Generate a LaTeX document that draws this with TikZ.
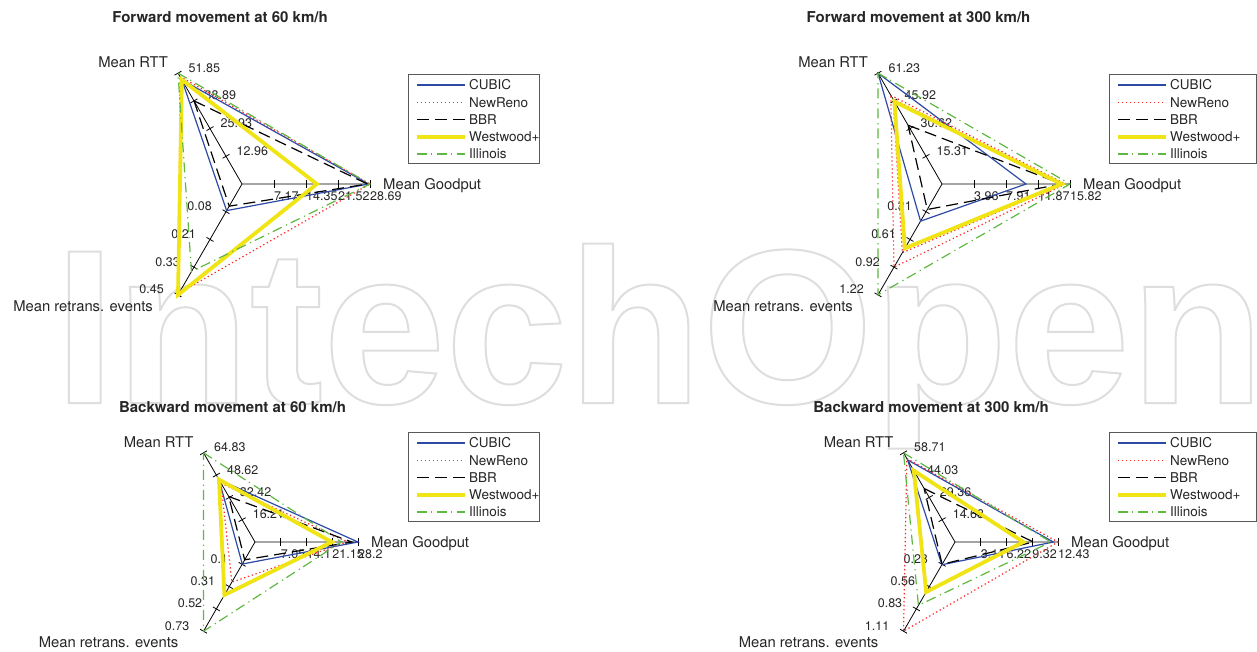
\documentclass[tikz,border=0pt]{standalone}
\usepackage{fontspec}
\setmainfont{TeX Gyre Heros}
\newfontfamily\wmfont{Liberation Sans}
\usetikzlibrary{calc}
\definecolor{cubic}{RGB}{45,75,165}
\definecolor{newreno}{RGB}{255,40,40}
\definecolor{westwood}{RGB}{240,228,20}
\definecolor{illinois}{RGB}{95,185,65}
\definecolor{txt}{RGB}{38,38,38}
\definecolor{wmcol}{RGB}{222,222,222}
\tikzset{
  cubicline/.style={draw=cubic, line width=1.2pt},
  renoline/.style={draw=newreno, line width=1.2pt, dash pattern=on 1.3pt off 2.7pt},
  bbrline/.style={draw=black, line width=1.2pt, dash pattern=on 12pt off 6pt},
  wwline/.style={draw=westwood, line width=3.8pt, line join=miter},
  illline/.style={draw=illinois, line width=1.2pt, dash pattern=on 10pt off 4pt on 1.2pt off 4.8pt},
  axisline/.style={draw=black, line width=0.8pt},
  ticklab/.style={font=\fontsize{12.5}{14}\selectfont, text=txt, inner sep=0pt, text height=9pt, text depth=0pt},
  axlab/.style={font=\fontsize{14.8}{17}\selectfont, text=txt, inner sep=0pt, text height=10.6pt, text depth=0pt},
  legtext/.style={font=\fontsize{13.5}{16}\selectfont, text=txt, inner sep=0pt, anchor=west, text height=9.7pt, text depth=0pt},
  titletext/.style={font=\bfseries\fontsize{15}{18}\selectfont, text=txt, inner sep=0pt, text height=10.7pt, text depth=0pt},
  legbox/.style={draw=black!65, line width=0.8pt, fill=white},
}
% axes with ticks
\newcommand\raxes[4]{%
  \coordinate (#1c) at (#2,#3);
  \coordinate (#1r) at ($(#1c)+(-120:#4)$);
  \coordinate (#1g) at ($(#1c)+(0:#4)$);
  \coordinate (#1e) at ($(#1c)+(120:#4)$);
  \draw[axisline] (#1r) -- (#1c) -- (#1g) (#1c) -- (#1e);
  \foreach \f in {0.25,0.5,0.75,1}{
    \foreach \a in {r,g,e}{
      \draw[axisline] ($(#1c)!\f!(#1\a)$) coordinate (tk) ($(tk)!4pt!90:(#1c)$) -- ($(tk)!4pt!-90:(#1c)$);
    }
  }
  \node[axlab, anchor=east] (#1nr) at ($(#1r)+(-10,-10.5)$) {Mean RTT};
  \node[axlab, anchor=west] (#1ng) at ($(#1g)+(13,0)$) {Mean Goodput};
  \node[axlab, anchor=east] (#1ne) at ($(#1e)+(-25,11)$) {Mean retrans. events};
}
\newcommand\rlabels[4]{%
  \foreach \t [count=\i] in {#2} \node[ticklab, anchor=west] (#1lr\i) at ($(#1c)!{\i/4}!(#1r)+(10.5,-5.5)$) {\t};
  \foreach \t [count=\i] in {#3} \node[ticklab, anchor=west] (#1lg\i) at ($(#1c)!{\i/4}!(#1g)+(0,12)$) {\t};
  \foreach \t [count=\i] in {#4} \node[ticklab, anchor=east] (#1le\i) at ($(#1c)!{\i/4}!(#1e)+(-14,-5.5)$) {\t};
}
\newcommand\rpoly[5]{\draw[#2] ($(#1c)!#3!(#1r)$) -- ($(#1c)!#4!(#1g)$) -- ($(#1c)!#5!(#1e)$) -- cycle;}
\newcommand\rlegend[4]{%
  \draw[legbox] (#2,#3) rectangle ++(#4,89);
  \foreach \s/\n [count=\i] in {cubicline/CUBIC, renoline/NewReno, bbrline/BBR, wwline/Westwood+, illline/Illinois}{
    \path (#2,#3) ++(9,{11+17.25*(\i-1)}) coordinate (#1la\i) ++(48,0) coordinate (#1lb\i);
    \draw[\s] (#1la\i) -- (#1lb\i);
    \node[legtext] (#1lt\i) at ($(#1lb\i)+(4,0)$) {\n};
  }
}
\begin{document}
\begin{tikzpicture}[x=1pt,y=-1pt]
\useasboundingbox (0,0) rectangle (1257,651);
\fill[white] (0,0) rectangle (1257,651);
% watermark
\node[anchor=base west, inner sep=0pt, text=wmcol, font=\wmfont\bfseries\fontsize{220}{220}\selectfont] (wm) at (54,403) {\special{pdf:literal direct 1 Tr 2 w}IntechOpen\special{pdf:literal direct 0 Tr}};
% titles
\node[titletext] (t1) at (220,17) {Forward movement at 60 km/h};
\node[titletext] (t2) at (918.5,17) {Forward movement at 300 km/h};
\node[titletext] (t3) at (232.5,407) {Backward movement at 60 km/h};
\node[titletext] (t4) at (931,407) {Backward movement at 300 km/h};
% chart 1
\raxes{A}{242}{184}{128}
\rlabels{A}{12.96,25.93,38.89,51.85}{7.17,14.35,21.52,28.69}{0.08,0.21,0.33,0.45}
\rpoly{A}{cubicline}{0.94}{0.99}{0.24}
\rpoly{A}{renoline}{0.97}{1.0}{0.985}
\rpoly{A}{bbrline}{0.75}{0.98}{0.20}
\rpoly{A}{wwline}{0.94}{0.585}{1.0}
\rpoly{A}{illline}{1.0}{1.0}{0.79}
\rlegend{A}{408}{74}{131}
% chart 2
\raxes{B}{942}{184}{128}
\rlabels{B}{15.31,30.62,45.92,61.23}{3.96,7.91,11.87,15.82}{0.31,0.61,0.92,1.22}
\rpoly{B}{cubicline}{1.0}{0.656}{0.335}
\rpoly{B}{renoline}{0.80}{0.965}{0.75}
\rpoly{B}{renoline}{0.765}{0.95}{0.62}
\rpoly{B}{bbrline}{0.53}{0.935}{0.23}
\rpoly{B}{wwline}{0.743}{0.935}{0.58}
\rpoly{B}{illline}{1.0}{1.0}{1.0}
\rlegend{B}{1109}{74}{147}
% chart 3
\raxes{C}{255}{542}{103}
\rlabels{C}{16.21,32.42,48.62,64.83}{7.05,14.1,21.15,28.2}{0.1,0.31,0.52,0.73}
\rpoly{C}{cubicline}{0.70}{1.0}{0.247}
\rpoly{C}{renoline}{0.66}{0.90}{0.45}
\rpoly{C}{bbrline}{0.51}{0.94}{0.20}
\rpoly{C}{wwline}{0.70}{0.745}{0.594}
\rpoly{C}{illline}{1.0}{0.84}{1.0}
\rlegend{C}{408}{432}{131}
% chart 4
\raxes{D}{955}{542}{103}
\rlabels{D}{14.68,29.36,44.03,58.71}{3.11,6.22,9.32,12.43}{0.28,0.56,0.83,1.11}
\rpoly{D}{cubicline}{0.92}{0.955}{0.255}
\rpoly{D}{renoline}{0.935}{1.0}{1.0}
\rpoly{D}{bbrline}{0.60}{0.76}{0.25}
\rpoly{D}{wwline}{0.80}{0.663}{0.56}
\rpoly{D}{illline}{1.0}{0.93}{0.71}
\rlegend{D}{1109}{432}{147}
\end{tikzpicture}
\end{document}
